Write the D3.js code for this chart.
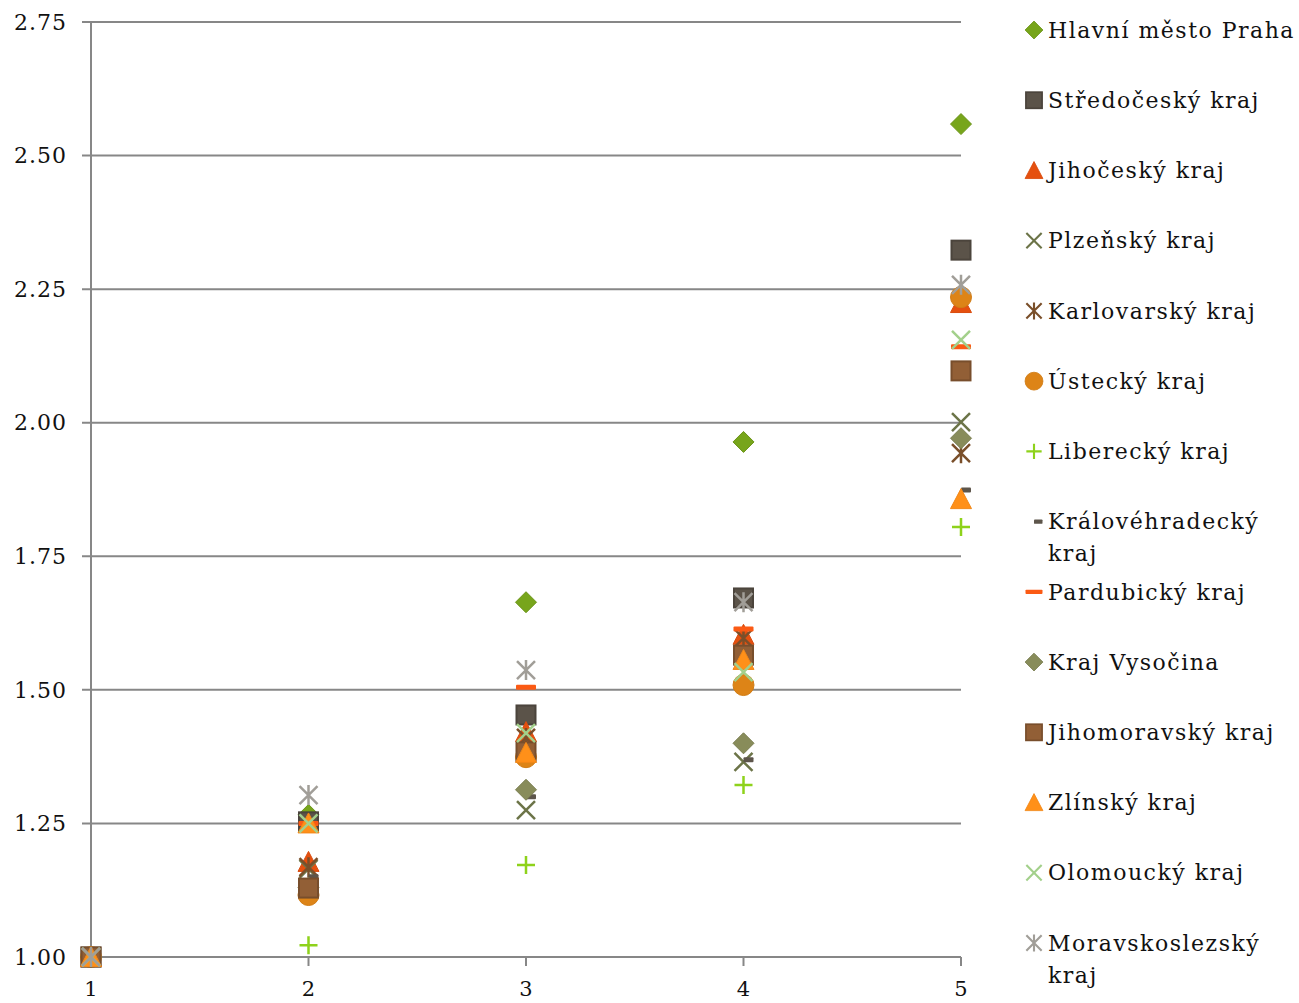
<!DOCTYPE html>
<html><head><meta charset="utf-8">
<script src="https://cdn.jsdelivr.net/npm/d3@7"></script>
<style>body{margin:0;background:#fff}svg{display:block}text{font-family:"DejaVu Serif","Liberation Serif",serif;fill:#111}</style>
</head><body><svg id="c" width="1299" height="1003"></svg>
<script>
const xTicks = [1, 2, 3, 4, 5];
const yTicks = [1.00, 1.25, 1.50, 1.75, 2.00, 2.25, 2.50, 2.75];
const seriesNames = ["Hlavní město Praha","Středočeský kraj","Jihočeský kraj","Plzeňský kraj","Karlovarský kraj","Ústecký kraj","Liberecký kraj","Královéhradecký kraj","Pardubický kraj","Kraj Vysočina","Jihomoravský kraj","Zlínský kraj","Olomoucký kraj","Moravskoslezský kraj"];
const praha = [1.00, 1.266, 1.664, 1.964, 2.559];
const stredocesky = [1.00, 1.253, 1.453, 1.672, 2.323];
const jihocesky = [1.00, 1.178, 1.421, 1.603, 2.224];
const plzensky = [1.00, 1.165, 1.275, 1.365, 2.001];
const karlovarsky = [1.00, 1.168, 1.410, 1.597, 1.943];
const ustecky = [1.00, 1.116, 1.374, 1.509, 2.235];
const liberecky = [1.00, 1.022, 1.172, 1.322, 1.805];
const kralovehradecky = [1.00, 1.150, 1.300, 1.369, 1.874];
const pardubicky = [1.00, 1.250, 1.505, 1.614, 2.142];
const vysocina = [1.00, 1.130, 1.313, 1.400, 1.971];
const jihomoravsky = [1.00, 1.129, 1.384, 1.565, 2.097];
const zlinsky = [1.00, 1.250, 1.382, 1.556, 1.857];
const olomoucky = [1.00, 1.250, 1.419, 1.533, 2.155];
const moravskoslezsky = [1.00, 1.303, 1.537, 1.664, 2.258];
const seriesValues = [praha, stredocesky, jihocesky, plzensky, karlovarsky, ustecky, liberecky, kralovehradecky, pardubicky, vysocina, jihomoravsky, zlinsky, olomoucky, moravskoslezsky];
const colors = ["#77a51b","#564f45","#e5500f","#6c7448","#7a4f2a","#dd8417","#8ed21b","#5d554b","#fb5a14","#888c5a","#8a5a33","#ff9019","#a3d08b","#a19e98"];
const markers = ["diamond","square","triangle","x","asterisk","circle","plus","halfdash","dash","diamond","square","triangle","x","asterisk"];

const svg = d3.select("#c");
const x = d3.scaleLinear().domain([1,5]).range([91,961]);
const y = d3.scaleLinear().domain([1,2.75]).range([957,22]);

// gridlines
svg.append("g").selectAll("line").data(yTicks).join("line")
  .attr("x1",82).attr("x2",961).attr("y1",d=>y(d)).attr("y2",d=>y(d))
  .attr("stroke","#878787").attr("stroke-width",2);
// y axis line
svg.append("line").attr("x1",x(1)).attr("x2",x(1)).attr("y1",y(2.75)).attr("y2",y(1)).attr("stroke","#878787").attr("stroke-width",2);
// x ticks
svg.append("g").selectAll("line").data(xTicks).join("line")
  .attr("x1",d=>x(d)).attr("x2",d=>x(d)).attr("y1",y(1)).attr("y2",y(1)+9)
  .attr("stroke","#878787").attr("stroke-width",2);
// labels
svg.append("g").selectAll("text").data(yTicks).join("text")
  .attr("x",67).attr("y",d=>y(d)).attr("dy","0.35em").attr("text-anchor","end")
  .attr("font-size",22).attr("letter-spacing","1px").text(d=>d3.format(".2f")(d));
svg.append("g").selectAll("text").data(xTicks).join("text")
  .attr("x",d=>x(d)).attr("y",996).attr("text-anchor","middle")
  .attr("font-size",21).text(d=>d);

function shade(c,k){return d3.color(c).darker(k).formatHex();}
function drawMarker(g, type, color){
  const S = 10.5;
  if(type==="diamond"){
    g.append("path").attr("d",`M0,${-S}L${S},0L0,${S}L${-S},0Z`).attr("fill",color).attr("stroke",shade(color,0.3)).attr("stroke-width",1);
  } else if(type==="square"){
    g.append("rect").attr("x",-S+1).attr("y",-S+1).attr("width",2*S-2).attr("height",2*S-2).attr("fill",d3.color(color).brighter(0.15).formatHex()).attr("stroke",shade(color,0.4)).attr("stroke-width",2);
  } else if(type==="triangle"){
    g.append("path").attr("d",`M0,${-S}L${S},${S-1}L${-S},${S-1}Z`).attr("fill",color).attr("stroke",shade(color,0.15)).attr("stroke-width",1);
  } else if(type==="circle"){
    g.append("circle").attr("r",S).attr("fill",color).attr("stroke",shade(color,0.15)).attr("stroke-width",1);
  } else if(type==="x"){
    const s=9;
    g.append("path").attr("d",`M${-s},${-s}L${s},${s}M${-s},${s}L${s},${-s}`).attr("stroke",color).attr("stroke-width",2.5).attr("fill","none");
  } else if(type==="plus"){
    const s=9;
    g.append("path").attr("d",`M${-s},0L${s},0M0,${-s}L0,${s}`).attr("stroke",color).attr("stroke-width",2.5).attr("fill","none");
  } else if(type==="asterisk"){
    const s=9;
    g.append("path").attr("d",`M${-s},${-s}L${s},${s}M${-s},${s}L${s},${-s}M0,${-s-1}L0,${s+1}`).attr("stroke",color).attr("stroke-width",2.5).attr("fill","none");
  } else if(type==="dash"){
    g.append("rect").attr("x",-10).attr("y",-2.5).attr("width",20).attr("height",5).attr("rx",1).attr("fill",color);
  } else if(type==="halfdash"){
    g.append("rect").attr("x",0).attr("y",-2.5).attr("width",10).attr("height",5).attr("rx",1).attr("fill",color);
  }
}

// points
seriesValues.forEach((vals,i)=>{
  const g = svg.append("g");
  vals.forEach((v,j)=>{
    const m = g.append("g").attr("transform",`translate(${x(xTicks[j])},${y(v)})`);
    drawMarker(m, markers[i], colors[i]);
  });
});

// legend
const legendY = d3.scaleLinear().domain([0,13]).range([30,943]);
seriesNames.forEach((name,i)=>{
  const cy = legendY(i);
  const m = svg.append("g").attr("transform",`translate(1034,${cy})`);
  const lg = m.append("g").attr("transform","scale(0.85)");
  drawMarker(lg, markers[i], colors[i]);
  const t = svg.append("text").attr("x",1048).attr("y",cy).attr("dy","0.35em").attr("font-size",22).attr("letter-spacing","1.5px");
  if(name==="Královéhradecký kraj" || name==="Moravskoslezský kraj"){
    const parts = name.split(" ");
    t.append("tspan").attr("x",1048).text(parts[0]);
    t.append("tspan").attr("x",1048).attr("dy","1.45em").text(parts[1]);
  } else t.text(name);
});
</script></body></html>
